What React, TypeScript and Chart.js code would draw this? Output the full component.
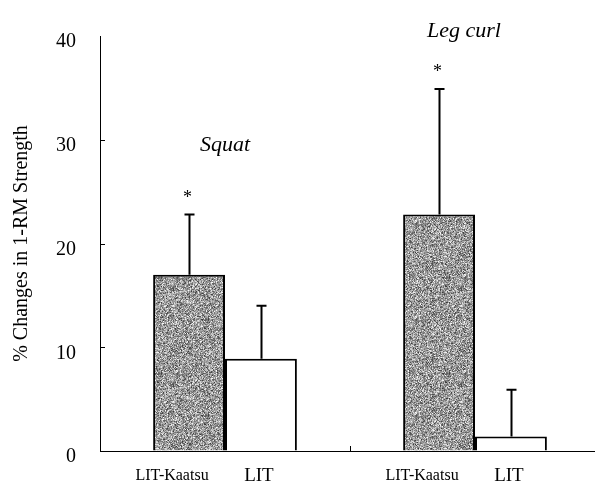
import { useEffect, useRef } from 'react';
import { Chart, registerables } from 'chart.js';

Chart.register(...registerables);

// ---- data ----
const exercises = ['Squat', 'Leg curl'];
const groupNames = ['LIT-Kaatsu', 'LIT'];
const kaatsuMeans = [17.0, 22.8];
const kaatsuSD = [5.8, 12.1];
const litMeans = [8.9, 1.4];
const litSD = [5.1, 4.5];
const kaatsuSignificant = [true, true];
const litSignificant = [false, false];
const yTickMin = 0;
const yTickMax = 40;
const yTickStep = 10;
const yTitle = '% Changes in 1-RM Strength';

function makeStipple(): CanvasPattern | string {
  const size = 96;
  const c = document.createElement('canvas');
  c.width = size;
  c.height = size;
  const g = c.getContext('2d');
  if (!g) return '#999999';
  const img = g.createImageData(size, size);
  let s = 987654321;
  const rnd = () => {
    s = (s * 1103515245 + 12345) & 0x7fffffff;
    return s / 0x7fffffff;
  };
  for (let i = 0; i < size * size; i++) {
    const v = Math.min(255, Math.round(50 + (rnd() + rnd()) * 105));
    img.data[i * 4] = v;
    img.data[i * 4 + 1] = v;
    img.data[i * 4 + 2] = v;
    img.data[i * 4 + 3] = 255;
  }
  g.putImageData(img, 0, 0);
  const p = g.createPattern(c, 'repeat');
  return p || '#999999';
}

const annotPlugin = {
  id: 'annot',
  afterDatasetsDraw(chart: any) {
    const { ctx, chartArea, scales } = chart;
    const xs = scales.x;
    const ys = scales.y;
    ctx.save();
    ctx.strokeStyle = '#000';
    ctx.fillStyle = '#000';

    // inward y ticks
    ctx.lineWidth = 1;
    ys.ticks.forEach((t: any) => {
      if (t.value <= yTickMin || t.value >= yTickMax) return;
      const py = Math.round(ys.getPixelForValue(t.value)) + 0.5;
      ctx.beginPath();
      ctx.moveTo(chartArea.left, py);
      ctx.lineTo(chartArea.left + 5, py);
      ctx.stroke();
    });

    // category boundary tick on x axis
    for (let i = 0; i < exercises.length - 1; i++) {
      const px = Math.round((xs.getPixelForValue(i) + xs.getPixelForValue(i + 1)) / 2) + 0.5;
      ctx.beginPath();
      ctx.moveTo(px, chartArea.bottom);
      ctx.lineTo(px, chartArea.bottom - 5);
      ctx.stroke();
    }

    const sds = [kaatsuSD, litSD];
    const means = [kaatsuMeans, litMeans];
    const sig = [kaatsuSignificant, litSignificant];
    chart.data.datasets.forEach((_ds: any, di: number) => {
      const meta = chart.getDatasetMeta(di);
      meta.data.forEach((bar: any, i: number) => {
        const top = ys.getPixelForValue(means[di][i] + sds[di][i]);
        const x = Math.round(bar.x) + 0.5;
        ctx.lineWidth = 2;
        ctx.beginPath();
        ctx.moveTo(x, bar.y);
        ctx.lineTo(x, top);
        ctx.moveTo(x - 5, top);
        ctx.lineTo(x + 5, top);
        ctx.stroke();

        if (sig[di][i]) {
          ctx.font = '18px "Liberation Serif"';
          ctx.textAlign = 'center';
          ctx.textBaseline = 'alphabetic';
          const m = ctx.measureText('*');
          const cy = top - 21;
          ctx.fillText('*', x - 2, cy + (m.actualBoundingBoxAscent - m.actualBoundingBoxDescent) / 2);
        }

        // group label under bar
        ctx.textBaseline = 'middle';
        ctx.textAlign = 'center';
        if (di === 0) {
          ctx.font = '16px "Liberation Serif"';
          ctx.fillText(groupNames[0], bar.x - 17, chartArea.bottom + 25);
        } else {
          ctx.font = '19px "Liberation Serif"';
          ctx.fillText(groupNames[1], bar.x - 2, chartArea.bottom + 25);
        }
      });
    });

    // exercise names
    const nameY = [29.5, 40.5];
    const nameDx = [0, -11];
    ctx.font = 'italic 22px "Liberation Serif"';
    ctx.textAlign = 'center';
    ctx.textBaseline = 'middle';
    exercises.forEach((name, i) => {
      ctx.fillText(name, xs.getPixelForValue(i) + nameDx[i], ys.getPixelForValue(nameY[i]));
    });
    ctx.restore();
  },
};

export default function App() {
  const ref = useRef<HTMLCanvasElement>(null);
  useEffect(() => {
    if (!ref.current) return;
    const stipple = makeStipple();
    const chart = new Chart(ref.current, {
      type: 'bar',
      data: {
        labels: exercises,
        datasets: [
          {
            label: groupNames[0],
            data: kaatsuMeans,
            backgroundColor: stipple as any,
            borderColor: '#000',
            borderWidth: 2,
            categoryPercentage: 0.575,
            barPercentage: 1,
          },
          {
            label: groupNames[1],
            data: litMeans,
            backgroundColor: '#fff',
            borderColor: '#000',
            borderWidth: 2,
            categoryPercentage: 0.575,
            barPercentage: 1,
          },
        ],
      },
      options: {
        responsive: false,
        animation: false,
        layout: { padding: { top: 29, right: 0, left: 0, bottom: 0 } },
        plugins: { legend: { display: false }, tooltip: { enabled: false } },
        scales: {
          x: {
            grid: { display: true, drawOnChartArea: false, drawTicks: false },
            border: { display: true, color: '#000', width: 1 },
            ticks: { display: false },
            afterFit: (s: any) => {
              s.height = 42;
            },
          },
          y: {
            min: yTickMin,
            max: yTickMax,
            grid: { display: true, drawOnChartArea: false, drawTicks: false },
            border: { display: true, color: '#000', width: 1 },
            ticks: {
              stepSize: yTickStep,
              color: '#000',
              padding: 24,
              labelOffset: 6,
              font: { family: 'Liberation Serif', size: 20 },
            },
            title: {
              display: true,
              text: yTitle,
              color: '#000',
              font: { family: 'Liberation Serif', size: 20 },
              padding: { top: 10, bottom: 0 },
            },
            afterFit: (s: any) => {
              s.width = 100;
            },
          },
        },
      },
      plugins: [annotPlugin],
    });
    return () => chart.destroy();
  }, []);
  return (
    <div style={{ position: 'fixed', left: 0, top: 0, width: 595, height: 493, overflow: 'hidden', background: '#fff' }}>
      <canvas ref={ref} width={600} height={493} style={{ display: 'block' }} />
    </div>
  );
}
